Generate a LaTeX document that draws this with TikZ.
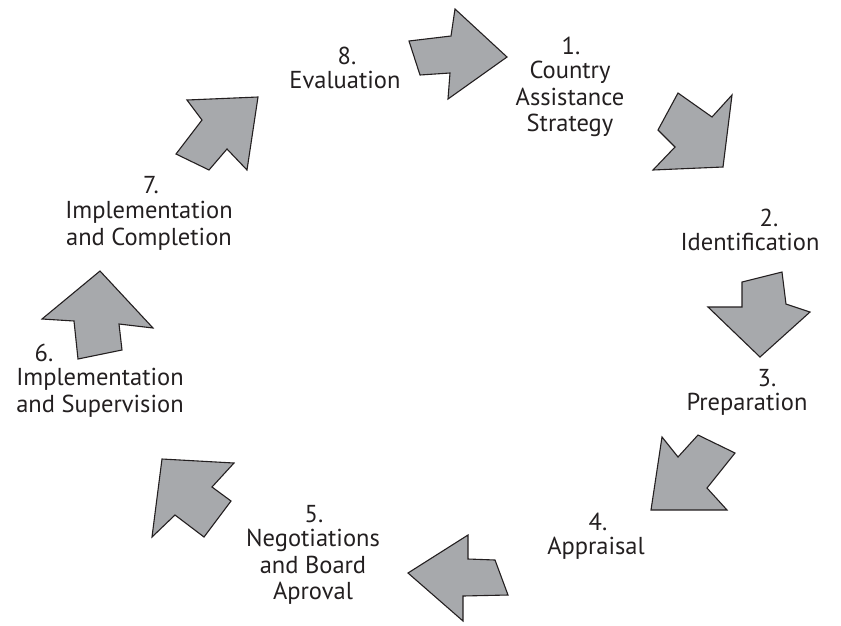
\documentclass[tikz,border=0pt]{standalone}
\usepackage{fontspec}
\setmainfont{PT Sans}
\begin{document}
\definecolor{arrowgray}{RGB}{167,169,172}
\definecolor{ink}{RGB}{35,31,32}
\begin{tikzpicture}[x=1pt,y=-1pt,
  cyclearrow/.style={fill=arrowgray,draw=ink,line width=1.1pt,line join=miter},
  numlabel/.style={text=ink,font=\fontsize{24.5}{27}\selectfont,inner sep=0pt,anchor=center},
  steplabel/.style={text=ink,font=\fontsize{24.5}{26.5}\selectfont,inner sep=0pt,align=center,anchor=north}]
\useasboundingbox (0,0) rectangle (841,625);

% arrows, one per step transition
\draw[cyclearrow] (409,41) -- (451,36) -- (455,9) -- (507,57) -- (448,99) -- (450,73) -- (420,75) -- cycle;
\draw[cyclearrow] (678,93) -- (712,117) -- (732,95) -- (723,167) -- (653,170) -- (675,147) -- (658,130) -- cycle;
\draw[cyclearrow] (742,282) -- (782,272) -- (786,304) -- (810,312) -- (760,357) -- (708,307) -- (742,307) -- cycle;
\draw[cyclearrow] (662,437) -- (678,457) -- (698,435) -- (735,453) -- (707,488) -- (727,510) -- (651,510) -- cycle;
\draw[cyclearrow] (408,573) -- (468,535) -- (468,559) -- (495,560) -- (508,595) -- (463,596) -- (463,621) -- cycle;
\draw[cyclearrow] (162,459) -- (234,463) -- (212,487) -- (231,501) -- (204,537) -- (175,515) -- (152,537) -- cycle;
\draw[cyclearrow] (100,271) -- (153,328) -- (119,324) -- (122,350) -- (78,359) -- (74,321) -- (42,319) -- cycle;
\draw[cyclearrow] (187,100) -- (258,97) -- (247,170) -- (227,149) -- (209,170) -- (176,154) -- (202,120) -- cycle;

% step numbers
\node[numlabel] (n1) at (571,46) {1.};
\node[numlabel] (n2) at (769,218) {2.};
\node[numlabel] (n3) at (767,378) {3.};
\node[numlabel] (n4) at (598,522) {4.};
\node[numlabel] (n5) at (314,514) {5.};
\node[numlabel] (n6) at (44,353) {6.};
\node[numlabel] (n7) at (151,185) {7.};
\node[numlabel] (n8) at (347,56) {8.};

% step names
\node[steplabel] (t1) at (570,61) {Country\\Assistance\\Strategy};
\node[steplabel] (t2) at (750,233) {Identification};
\node[steplabel] (t3) at (747,393) {Preparation};
\node[steplabel] (t4) at (596,537) {Appraisal};
\node[steplabel] (t5) at (313,529) {Negotiations\\and Board\\Aproval};
\node[steplabel] (t6) at (100,368) {Implementation\\and Supervision};
\node[steplabel] (t7) at (149,201) {Implementation\\and Completion};
\node[steplabel] (t8) at (345,71) {Evaluation};
\end{tikzpicture}
\end{document}
